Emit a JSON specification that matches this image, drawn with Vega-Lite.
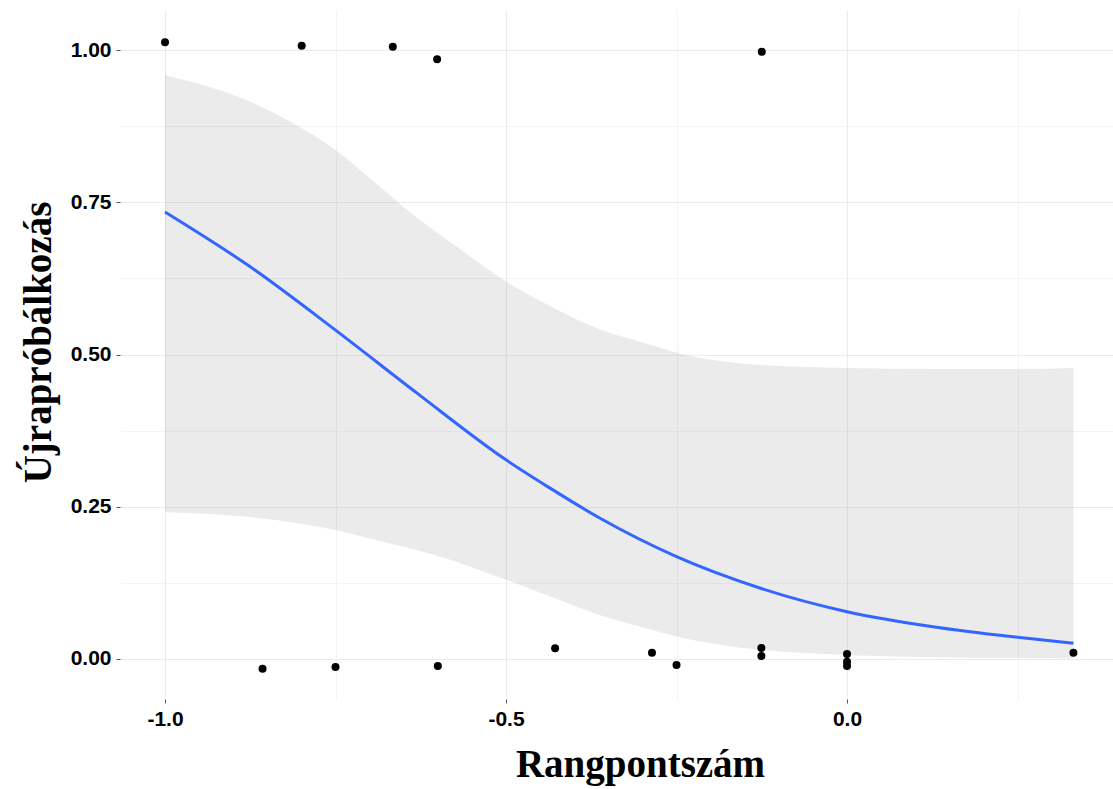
{
  "$schema": "https://vega.github.io/schema/vega-lite/v6.json",
  "width": 993,
  "height": 689,
  "autosize": {"type": "none"},
  "padding": {"left": 120, "top": 10, "right": 0, "bottom": 90},
  "background": "white",
  "config": {"view": {"stroke": null}},
  "datasets": {
    "points": [
      {"x": -1.0, "y": 1.0126}, {"x": -0.7996, "y": 1.007}, {"x": -0.666, "y": 1.0055}, {"x": -0.601, "y": 0.985}, {"x": -0.125, "y": 0.997},
      {"x": -0.857, "y": -0.016}, {"x": -0.75, "y": -0.013}, {"x": -0.6, "y": -0.0115}, {"x": -0.428, "y": 0.0175},
      {"x": -0.286, "y": 0.0104}, {"x": -0.25, "y": -0.0099}, {"x": -0.1256, "y": 0.018}, {"x": -0.1256, "y": 0.0049},
      {"x": 0.0, "y": 0.0082}, {"x": 0.0, "y": -0.0044}, {"x": 0.0, "y": -0.0115}, {"x": 0.332, "y": 0.0104}
    ],
    "fit": [
      {"x": -1.0, "y": 0.734}, {"x": -0.875, "y": 0.644}, {"x": -0.75, "y": 0.54}, {"x": -0.631, "y": 0.437},
      {"x": -0.5, "y": 0.327}, {"x": -0.436, "y": 0.281}, {"x": -0.362, "y": 0.231}, {"x": -0.25, "y": 0.168},
      {"x": -0.128, "y": 0.1166}, {"x": 0.0, "y": 0.0777}, {"x": 0.126, "y": 0.053}, {"x": 0.25, "y": 0.0356}, {"x": 0.332, "y": 0.0258}
    ],
    "band": [
      {"x": -1.0, "lo": 0.241, "hi": 0.959}, {"x": -0.875, "lo": 0.233, "hi": 0.915}, {"x": -0.8, "lo": 0.222, "hi": 0.872},
      {"x": -0.75, "lo": 0.212, "hi": 0.836}, {"x": -0.7, "lo": 0.198, "hi": 0.79}, {"x": -0.631, "lo": 0.179, "hi": 0.725},
      {"x": -0.582, "lo": 0.163, "hi": 0.685}, {"x": -0.5, "lo": 0.13, "hi": 0.62}, {"x": -0.436, "lo": 0.103, "hi": 0.58},
      {"x": -0.362, "lo": 0.072, "hi": 0.541}, {"x": -0.3, "lo": 0.052, "hi": 0.52}, {"x": -0.25, "lo": 0.037, "hi": 0.503},
      {"x": -0.128, "lo": 0.015, "hi": 0.483}, {"x": 0.0, "lo": 0.0066, "hi": 0.478}, {"x": 0.126, "lo": 0.003, "hi": 0.476},
      {"x": 0.25, "lo": 0.0015, "hi": 0.476}, {"x": 0.332, "lo": 0.001, "hi": 0.478}
    ]
  },
  "encoding": {
    "x": {
      "type": "quantitative",
      "scale": {"domain": [-1.066, 0.39], "nice": false, "zero": false},
      "axis": {
        "title": "Rangpontszám",
        "titleFont": "Liberation Serif", "titleFontSize": 39, "titleFontWeight": "bold", "titleColor": "black",
        "titleX": 520, "titlePadding": 16,
        "values": [-1, -0.75, -0.5, -0.25, 0, 0.25],
        "labelExpr": "abs(datum.value*2 - round(datum.value*2)) < 0.001 ? replace(format(datum.value, '.1f'), '\u2212', '-') : ''",
        "labelFont": "Liberation Sans", "labelFontSize": 21, "labelFontWeight": "bold", "labelColor": "black",
        "labelPadding": 5,
        "domain": false,
        "ticks": true, "tickSize": 4, "tickColor": "#555555",
        "tickOpacity": {"condition": {"test": "abs(datum.value*2 - round(datum.value*2)) < 0.001", "value": 1}, "value": 0},
        "grid": true, "gridColor": "#EBEBEB",
        "gridWidth": {"condition": {"test": "abs(datum.value*2 - round(datum.value*2)) < 0.001", "value": 1.1}, "value": 0.6}
      }
    },
    "y": {
      "type": "quantitative",
      "scale": {"domain": [-0.0657, 1.0657], "nice": false, "zero": false},
      "axis": {
        "title": "Újrapróbálkozás",
        "titleFont": "Liberation Serif", "titleFontSize": 39, "titleFontWeight": "bold", "titleColor": "black",
        "titleY": 332, "titlePadding": 12,
        "values": [0, 0.125, 0.25, 0.375, 0.5, 0.625, 0.75, 0.875, 1.0],
        "labelExpr": "abs(datum.value*4 - round(datum.value*4)) < 0.001 ? format(datum.value, '.2f') : ''",
        "labelFont": "Liberation Sans", "labelFontSize": 21, "labelFontWeight": "bold", "labelColor": "black",
        "labelPadding": 5,
        "domain": false,
        "ticks": true, "tickSize": 4, "tickColor": "#555555",
        "tickOpacity": {"condition": {"test": "abs(datum.value*4 - round(datum.value*4)) < 0.001", "value": 1}, "value": 0},
        "grid": true, "gridColor": "#EBEBEB",
        "gridWidth": {"condition": {"test": "abs(datum.value*4 - round(datum.value*4)) < 0.001", "value": 1.1}, "value": 0.6}
      }
    }
  },
  "layer": [
    {
      "data": {"name": "band"},
      "mark": {"type": "area", "color": "#999999", "opacity": 0.2, "interpolate": "monotone"},
      "encoding": {
        "x": {"field": "x", "type": "quantitative"},
        "y": {"field": "lo", "type": "quantitative"},
        "y2": {"field": "hi"}
      }
    },
    {
      "data": {"name": "fit"},
      "mark": {"type": "line", "color": "#3366FF", "strokeWidth": 3, "interpolate": "monotone"},
      "encoding": {
        "x": {"field": "x", "type": "quantitative"},
        "y": {"field": "y", "type": "quantitative"}
      }
    },
    {
      "data": {"name": "points"},
      "mark": {"type": "circle", "color": "black", "opacity": 1, "size": 64},
      "encoding": {
        "x": {"field": "x", "type": "quantitative"},
        "y": {"field": "y", "type": "quantitative"}
      }
    }
  ]
}
